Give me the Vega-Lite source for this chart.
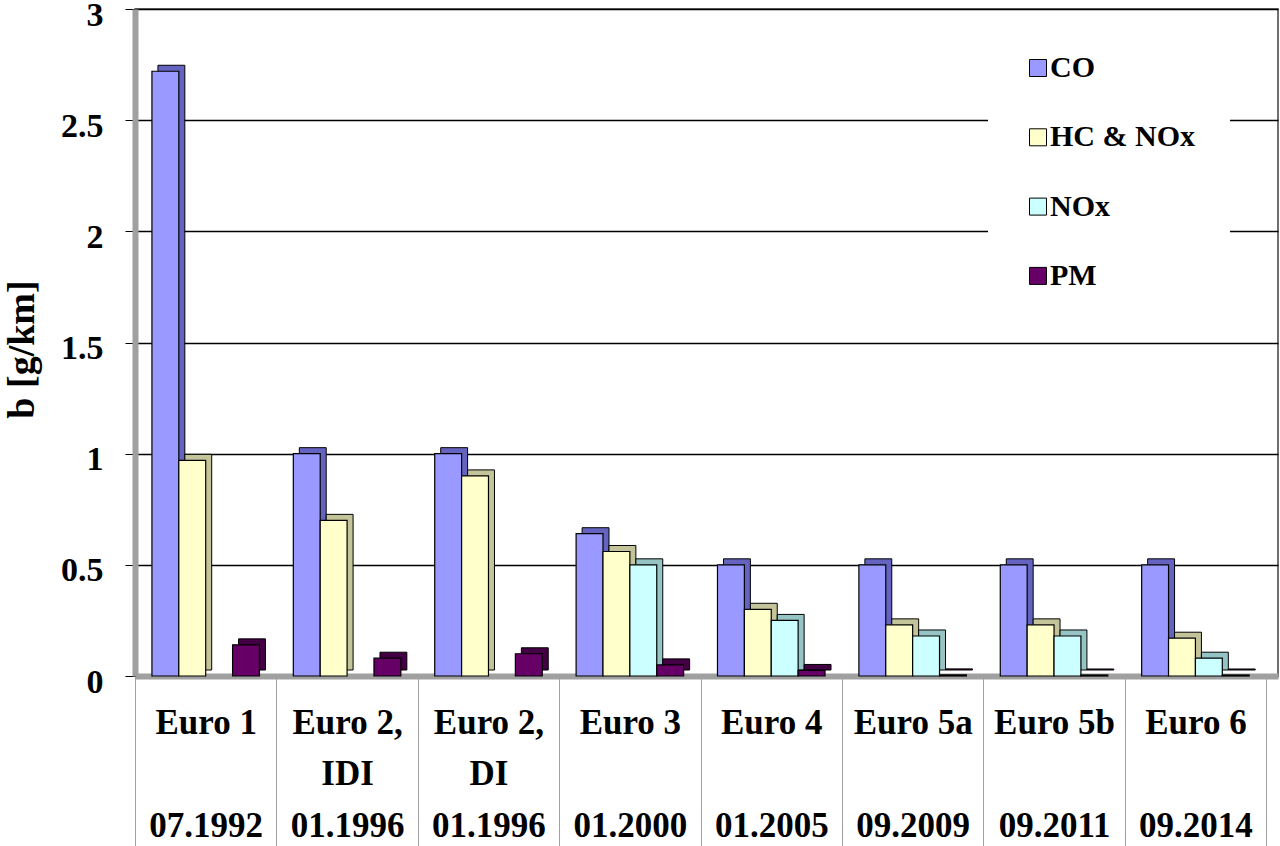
{
  "$schema": "https://vega.github.io/schema/vega-lite/v6.json",
  "width": 1143,
  "height": 667,
  "autosize": {"type": "none"},
  "padding": {"left": 135, "top": 9, "right": 2, "bottom": 170},
  "background": "white",
  "config": {
    "view": {"stroke": "#404040", "strokeWidth": 1.5},
    "font": "Liberation Serif"
  },
  "data": {
    "values": [
      {"cat": "Euro 1|\u200b|07.1992", "series": "CO", "value": 2.72},
      {"cat": "Euro 1|\u200b|07.1992", "series": "HC & NOx", "value": 0.97},
      {"cat": "Euro 1|\u200b|07.1992", "series": "PM", "value": 0.14},
      {"cat": "Euro 2,|IDI|01.1996", "series": "CO", "value": 1.0},
      {"cat": "Euro 2,|IDI|01.1996", "series": "HC & NOx", "value": 0.7},
      {"cat": "Euro 2,|IDI|01.1996", "series": "PM", "value": 0.08},
      {"cat": "Euro 2,|DI|01.1996", "series": "CO", "value": 1.0},
      {"cat": "Euro 2,|DI|01.1996", "series": "HC & NOx", "value": 0.9},
      {"cat": "Euro 2,|DI|01.1996", "series": "PM", "value": 0.1},
      {"cat": "Euro 3|\u200b|01.2000", "series": "CO", "value": 0.64},
      {"cat": "Euro 3|\u200b|01.2000", "series": "HC & NOx", "value": 0.56},
      {"cat": "Euro 3|\u200b|01.2000", "series": "NOx", "value": 0.5},
      {"cat": "Euro 3|\u200b|01.2000", "series": "PM", "value": 0.05},
      {"cat": "Euro 4|\u200b|01.2005", "series": "CO", "value": 0.5},
      {"cat": "Euro 4|\u200b|01.2005", "series": "HC & NOx", "value": 0.3},
      {"cat": "Euro 4|\u200b|01.2005", "series": "NOx", "value": 0.25},
      {"cat": "Euro 4|\u200b|01.2005", "series": "PM", "value": 0.025},
      {"cat": "Euro 5a|\u200b|09.2009", "series": "CO", "value": 0.5},
      {"cat": "Euro 5a|\u200b|09.2009", "series": "HC & NOx", "value": 0.23},
      {"cat": "Euro 5a|\u200b|09.2009", "series": "NOx", "value": 0.18},
      {"cat": "Euro 5a|\u200b|09.2009", "series": "PM", "value": 0.005},
      {"cat": "Euro 5b|\u200b|09.2011", "series": "CO", "value": 0.5},
      {"cat": "Euro 5b|\u200b|09.2011", "series": "HC & NOx", "value": 0.23},
      {"cat": "Euro 5b|\u200b|09.2011", "series": "NOx", "value": 0.18},
      {"cat": "Euro 5b|\u200b|09.2011", "series": "PM", "value": 0.0045},
      {"cat": "Euro 6|\u200b|09.2014", "series": "CO", "value": 0.5},
      {"cat": "Euro 6|\u200b|09.2014", "series": "HC & NOx", "value": 0.17},
      {"cat": "Euro 6|\u200b|09.2014", "series": "NOx", "value": 0.08},
      {"cat": "Euro 6|\u200b|09.2014", "series": "PM", "value": 0.0045}
    ]
  },
  "encoding": {
    "x": {
      "field": "cat",
      "type": "nominal",
      "sort": null,
      "scale": {"paddingInner": 0, "paddingOuter": 0.042, "align": 0},
      "axis": {
        "title": null,
        "labelAngle": 0,
        "labelExpr": "split(datum.label, '|')",
        "labelFont": "Liberation Serif",
        "labelFontWeight": "bold",
        "labelFontSize": 35,
        "labelColor": "black",
        "labelLineHeight": 51.5,
        "labelBaseline": "top",
        "labelPadding": -141,
        "tickBand": "extent",
        "tickSize": 170,
        "tickColor": "#A0A0A0",
        "tickWidth": 1,
        "domainColor": "#A0A0A0",
        "domainWidth": 6,
        "grid": false
      }
    },
    "y": {
      "field": "value",
      "type": "quantitative",
      "scale": {"domain": [0, 3], "nice": false},
      "axis": {
        "title": "b [g/km]",
        "values": [0, 0.5, 1, 1.5, 2, 2.5, 3],
        "format": "~g",
        "labelFont": "Liberation Serif",
        "labelFontWeight": "bold",
        "labelFontSize": 34,
        "labelColor": "black",
        "labelPadding": 22,
        "labelOffset": 6,
        "tickSize": 10,
        "tickColor": "black",
        "domainColor": "#A0A0A0",
        "domainWidth": 6,
        "grid": true,
        "gridColor": "black",
        "gridWidth": 1.5,
        "titleFont": "Liberation Serif",
        "titleFontWeight": "bold",
        "titleFontSize": 38,
        "titleColor": "black",
        "titleAngle": -90,
        "titleBaseline": "middle",
        "titleX": -113,
        "titleY": 340
      }
    }
  },
  "layer": [
    {
      "mark": {"type": "bar", "yOffset": -6, "stroke": "black", "strokeWidth": 1},
      "encoding": {
        "xOffset": {
          "field": "series",
          "type": "nominal",
          "sort": ["CO", "HC & NOx", "NOx", "PM"],
          "scale": {"domain": ["CO", "HC & NOx", "NOx", "PM"], "paddingInner": 0, "paddingOuter": 0.63, "range": [6, 147.4]}
        },
        "color": {
          "field": "series",
          "type": "nominal",
          "scale": {"domain": ["CO", "HC & NOx", "NOx", "PM"], "range": ["#6464C0", "#C4C49A", "#96C4C4", "#440044"]},
          "legend": null
        }
      }
    },
    {
      "mark": {"type": "bar", "stroke": "black", "strokeWidth": 1.2},
      "encoding": {
        "xOffset": {
          "field": "series",
          "type": "nominal",
          "sort": ["CO", "HC & NOx", "NOx", "PM"],
          "scale": {"domain": ["CO", "HC & NOx", "NOx", "PM"], "paddingInner": 0, "paddingOuter": 0.63}
        },
        "color": {
          "field": "series",
          "type": "nominal",
          "scale": {"domain": ["CO", "HC & NOx", "NOx", "PM"], "range": ["#9999FF", "#FFFFCC", "#CCFFFF", "#660066"]},
          "legend": {
            "title": null,
            "orient": "none",
            "legendX": 853,
            "legendY": 9,
            "fillColor": "white",
            "padding": 35,
            "symbolType": "square",
            "symbolSize": 289,
            "symbolStrokeColor": "black",
            "symbolStrokeWidth": 1,
            "labelFont": "Liberation Serif",
            "labelFontWeight": "bold",
            "labelFontSize": 30,
            "labelColor": "black",
            "labelOffset": -3,
            "rowPadding": 39.3
          }
        }
      }
    }
  ],
  "resolve": {"scale": {"color": "independent", "xOffset": "independent"}}
}
